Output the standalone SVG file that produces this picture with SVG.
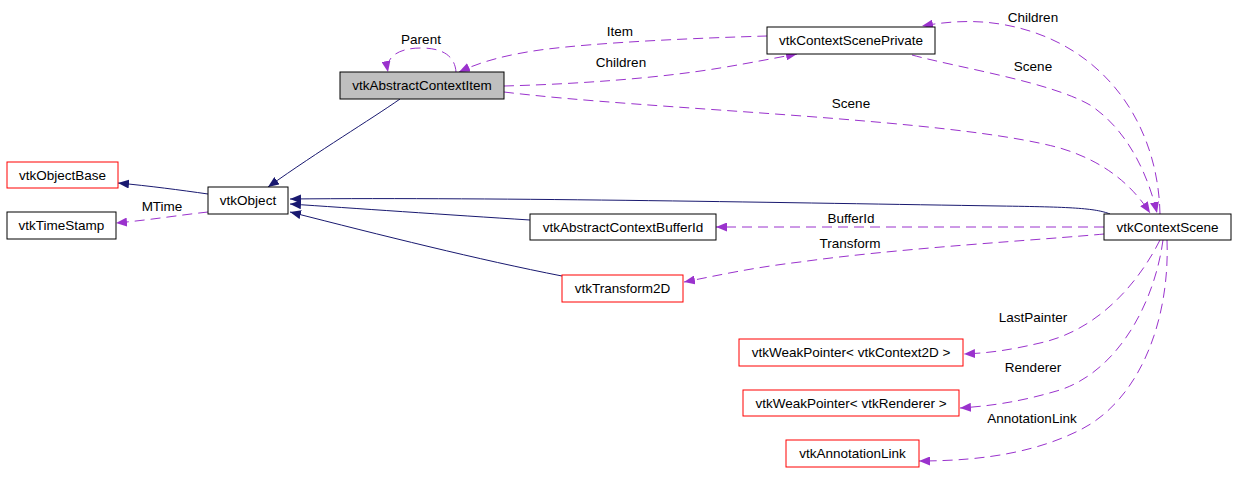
<svg xmlns="http://www.w3.org/2000/svg" width="1235" height="483" viewBox="0 0 1235 483">
<style>
text{font-family:"Liberation Sans",Arial,sans-serif;font-size:13.5px;fill:#000;text-anchor:middle}
.box{fill:#fff;stroke:#000;stroke-width:1}
.red{fill:#fff;stroke:#ff0000;stroke-width:1}
.gray{fill:#bfbfbf;stroke:#000;stroke-width:1}
.inh{fill:none;stroke:#191970;stroke-width:1;marker-end:url(#an)}
.use{fill:none;stroke:#9a32cd;stroke-width:1;stroke-dasharray:10,6;marker-end:url(#ap)}
</style>
<defs>
<marker id="an" markerUnits="userSpaceOnUse" markerWidth="12" markerHeight="9" refX="11" refY="4.5" orient="auto"><path d="M0,0 L11,4.5 L0,9 z" fill="#191970"/></marker>
<marker id="ap" markerUnits="userSpaceOnUse" markerWidth="12" markerHeight="9" refX="11" refY="4.5" orient="auto"><path d="M0,0 L11,4.5 L0,9 z" fill="#9a32cd"/></marker>
</defs>
<rect width="1235" height="483" fill="#fff"/>
<g id="connectors">
<path class="use" d="M456,72 C455,57 444,48 421,48 C400,48 385,56 388,72"/>
<path class="use" d="M767,36 C700,38 600,42 540,50 C505,55 480,62 459,72"/>
<path class="use" d="M504,86 C580,84 660,78 720,68 C750,63 775,58 797,54"/>
<path class="use" d="M504,92 C650,110 950,118 1060,148 C1110,163 1135,190 1150,213"/>
<path class="use" d="M1160,214 C1158,120 1100,40 1000,24 C975,20 950,21 922,26"/>
<path class="use" d="M912,55 C960,68 1050,82 1090,105 C1128,130 1148,175 1157,213"/>
<path class="use" d="M1104,227 L716,227"/>
<path class="use" d="M1104,234 C1040,240 900,248 800,262 C750,268 720,275 684,282"/>
<path class="use" d="M208,212 C180,215 150,220 116,223"/>
<path class="use" d="M1160,240 C1140,280 1100,330 1040,343 C1010,350 990,353 964,354"/>
<path class="use" d="M1163,240 C1155,300 1120,370 1060,390 C1020,402 990,406 960,408"/>
<path class="use" d="M1167,240 C1170,320 1140,400 1080,430 C1040,450 990,461 919,461"/>
<path class="inh" d="M400,99 C370,120 320,150 268,187"/>
<path class="inh" d="M208,194 C180,190 150,186 118,183"/>
<path class="inh" d="M1110,214 C1095,208 1070,207 1000,206 C800,203 500,197 290,199"/>
<path class="inh" d="M530,220 C450,215 350,208 290,204"/>
<path class="inh" d="M562,276 C480,260 380,235 290,212"/>
<text x="421" y="44">Parent</text>
<text x="620" y="35.5">Item</text>
<text x="621" y="67">Children</text>
<text x="851" y="107.5">Scene</text>
<text x="1033" y="21.5">Children</text>
<text x="1033" y="71">Scene</text>
<text x="851" y="223">BufferId</text>
<text x="850" y="248">Transform</text>
<text x="162" y="211">MTime</text>
<text x="1033" y="322">LastPainter</text>
<text x="1033" y="372">Renderer</text>
<text x="1032" y="423">AnnotationLink</text>
</g>
<g id="vtkAbstractContextItem"><rect class="gray" x="340" y="72" width="164" height="27"/><text x="422" y="90">vtkAbstractContextItem</text></g>
<g id="vtkContextScenePrivate"><rect class="box" x="767" y="27" width="168" height="27"/><text x="851" y="45">vtkContextScenePrivate</text></g>
<g id="vtkContextScene"><rect class="box" x="1104" y="214" width="127" height="26"/><text x="1167.5" y="231.5">vtkContextScene</text></g>
<g id="vtkObjectBase"><rect class="red" x="7" y="162" width="111" height="26"/><text x="62.5" y="179.5">vtkObjectBase</text></g>
<g id="vtkTimeStamp"><rect class="box" x="7" y="212" width="109" height="27"/><text x="61.5" y="230">vtkTimeStamp</text></g>
<g id="vtkObject"><rect class="box" x="208" y="187" width="80" height="27"/><text x="248" y="205">vtkObject</text></g>
<g id="vtkAbstractContextBufferId"><rect class="box" x="530" y="214" width="186" height="26"/><text x="623" y="231.5">vtkAbstractContextBufferId</text></g>
<g id="vtkTransform2D"><rect class="red" x="562" y="275" width="121" height="27"/><text x="622.5" y="293">vtkTransform2D</text></g>
<g id="vtkWeakPointer_vtkContext2D"><rect class="red" x="739" y="339" width="224" height="27"/><text x="851" y="357">vtkWeakPointer&lt; vtkContext2D &gt;</text></g>
<g id="vtkWeakPointer_vtkRenderer"><rect class="red" x="743" y="390" width="216" height="26"/><text x="851" y="407.5">vtkWeakPointer&lt; vtkRenderer &gt;</text></g>
<g id="vtkAnnotationLink"><rect class="red" x="786" y="440" width="133" height="27"/><text x="852.5" y="458">vtkAnnotationLink</text></g>
</svg>
